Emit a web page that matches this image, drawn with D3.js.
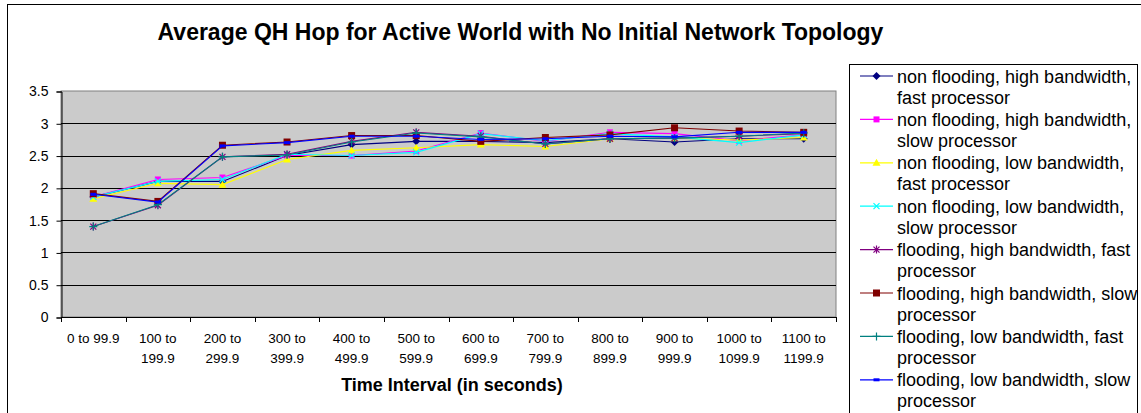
<!DOCTYPE html>
<html>
<head>
<meta charset="utf-8">
<script src="https://cdn.jsdelivr.net/npm/d3@7"></script>
<style>
  html, body { margin: 0; padding: 0; background: #fff; }
  svg { display: block; font-family: Arial, "Liberation Sans", sans-serif; }
</style>
</head>
<body>
<svg id="chart" width="1141" height="413"></svg>
<script>
// Time intervals (x categories)
const categories = ["0 to 99.9", "100 to 199.9", "200 to 299.9", "300 to 399.9",
  "400 to 499.9", "500 to 599.9", "600 to 699.9", "700 to 799.9",
  "800 to 899.9", "900 to 999.9", "1000 to 1099.9", "1100 to 1199.9"];

// Average QH hop per interval, one array per configuration
const nfHighFast = [1.86, 2.10, 2.10, 2.50, 2.67, 2.72, 2.72, 2.70, 2.76, 2.71, 2.76, 2.76];
const nfHighSlow = [1.86, 2.13, 2.16, 2.50, 2.50, 2.57, 2.85, 2.72, 2.86, 2.84, 2.73, 2.82];
const nfLowFast  = [1.83, 2.07, 2.05, 2.44, 2.58, 2.62, 2.67, 2.64, 2.76, 2.77, 2.74, 2.78];
const nfLowSlow  = [1.86, 2.10, 2.13, 2.52, 2.50, 2.55, 2.84, 2.73, 2.84, 2.79, 2.70, 2.82];
const fHighFast  = [1.40, 1.73, 2.48, 2.52, 2.72, 2.86, 2.80, 2.68, 2.76, 2.77, 2.80, 2.84];
const fHighSlow  = [1.91, 1.79, 2.66, 2.71, 2.81, 2.81, 2.72, 2.78, 2.82, 2.93, 2.88, 2.86];
const fLowFast   = [1.40, 1.74, 2.48, 2.51, 2.71, 2.85, 2.79, 2.68, 2.76, 2.77, 2.80, 2.85];
const fLowSlow   = [1.90, 1.78, 2.65, 2.70, 2.80, 2.80, 2.75, 2.76, 2.80, 2.79, 2.86, 2.86];

const seriesNames = [
  ["non flooding, high bandwidth,", "fast processor"],
  ["non flooding, high bandwidth,", "slow processor"],
  ["non flooding, low bandwidth,", "fast processor"],
  ["non flooding, low bandwidth,", "slow processor"],
  ["flooding, high bandwidth, fast", "processor"],
  ["flooding, high bandwidth, slow", "processor"],
  ["flooding, low bandwidth, fast", "processor"],
  ["flooding, low bandwidth, slow", "processor"]
];
const seriesValues = [nfHighFast, nfHighSlow, nfLowFast, nfLowSlow, fHighFast, fHighSlow, fLowFast, fLowSlow];

const yTicks = [0, 0.5, 1, 1.5, 2, 2.5, 3, 3.5];
const titleText = "Average QH Hop for Active World with No Initial Network Topology";
const xTitleText = "Time Interval (in seconds)";

// Styling per series: colour and marker shape
const styles = [
  { color: "#000080", marker: "diamond" },
  { color: "#ff00ff", marker: "square" },
  { color: "#ffff00", marker: "triangle" },
  { color: "#00ffff", marker: "x" },
  { color: "#800080", marker: "asterisk" },
  { color: "#800000", marker: "bigsquare" },
  { color: "#008080", marker: "plus" },
  { color: "#0000ff", marker: "dash" }
];
const markerPaths = {
  diamond:   { d: "M0,-4L4,0L0,4L-4,0Z", fill: true },
  square:    { d: "M-3,-3h6v6h-6Z", fill: true },
  triangle:  { d: "M0,-4L4,3L-4,3Z", fill: true },
  x:         { d: "M-3,-3L3,3M3,-3L-3,3", fill: false },
  asterisk:  { d: "M-3,-3L3,3M3,-3L-3,3M0,-4V4", fill: false },
  bigsquare: { d: "M-3.5,-3.5h7v7h-7Z", fill: true },
  plus:      { d: "M-4,0H4M0,-4V4", fill: false },
  dash:      { d: "M-3,-1.5h6v3h-6Z", fill: true }
};

const svg = d3.select("#chart");
const W = 1141, H = 413;

// Chart area border
svg.append("rect").attr("x", 7.5).attr("y", 4.5).attr("width", W).attr("height", H)
  .attr("fill", "#fff").attr("stroke", "#000").attr("stroke-width", 1);

const plot = { left: 61, right: 836, top: 91, bottom: 317 };

const x = d3.scaleBand().domain(categories).range([plot.left, plot.right]).padding(0);
const y = d3.scaleLinear().domain([0, 3.5]).range([plot.bottom, plot.top]);

// Plot area background
svg.append("rect")
  .attr("x", plot.left).attr("y", plot.top)
  .attr("width", plot.right - plot.left).attr("height", plot.bottom - plot.top)
  .attr("fill", "#cbcbcb").attr("stroke", "#808080").attr("stroke-width", 1);

// Horizontal gridlines
svg.append("g").selectAll("line").data(yTicks.filter(t => t > 0 && t < 3.5)).join("line")
  .attr("x1", plot.left).attr("x2", plot.right)
  .attr("y1", d => Math.round(y(d)) + 0.5).attr("y2", d => Math.round(y(d)) + 0.5)
  .attr("stroke", "#000").attr("stroke-width", 1);

// Y axis
const yAxis = d3.axisLeft(y).tickValues(yTicks).tickSize(5).tickPadding(8)
  .tickFormat(d3.format("~g"));
const gy = svg.append("g").attr("transform", `translate(${plot.left + 0.5},0.5)`).call(yAxis);
gy.select(".domain").attr("stroke", "#000");
gy.selectAll(".tick line").attr("stroke", "#000");
gy.selectAll(".tick text").attr("font-size", 14).attr("fill", "#000")
  .attr("font-family", "Arial, 'Liberation Sans', sans-serif");

// X axis: baseline, tick marks at band boundaries, wrapped labels
const gx = svg.append("g");
gx.append("line").attr("x1", plot.left).attr("x2", plot.right)
  .attr("y1", plot.bottom + 0.5).attr("y2", plot.bottom + 0.5).attr("stroke", "#000");
const bounds = categories.map(c => x(c)).concat([plot.right]);
gx.selectAll("line.tk").data(bounds).join("line").attr("class", "tk")
  .attr("x1", d => Math.round(d) + 0.5).attr("x2", d => Math.round(d) + 0.5)
  .attr("y1", plot.bottom).attr("y2", plot.bottom + 5).attr("stroke", "#000");

const labelG = gx.selectAll("text.xl").data(categories).join("text").attr("class", "xl")
  .attr("x", d => x(d) + x.bandwidth() / 2)
  .attr("y", plot.bottom + 26)
  .attr("text-anchor", "middle").attr("font-size", 13.5).attr("fill", "#000");
labelG.each(function (d) {
  const t = d3.select(this);
  const words = d.split(" ");
  let lines = [], cur = [];
  const probe = t.append("tspan");
  words.forEach(w => {
    const trial = cur.concat([w]).join(" ");
    probe.text(trial);
    if (probe.node().getComputedTextLength() > x.bandwidth() - 4 && cur.length) {
      lines.push(cur.join(" "));
      cur = [w];
    } else cur.push(w);
  });
  lines.push(cur.join(" "));
  probe.remove();
  lines.forEach((ln, i) => {
    t.append("tspan").attr("x", x(d) + x.bandwidth() / 2).attr("dy", i === 0 ? 0 : 19.5).text(ln);
  });
});

// Series lines and markers
const line = d3.line().x((d, i) => x(categories[i]) + x.bandwidth() / 2).y(d => y(d));
seriesValues.forEach((vals, si) => {
  const st = styles[si];
  const g = svg.append("g");
  g.append("path").datum(vals).attr("d", line)
    .attr("fill", "none").attr("stroke", st.color).attr("stroke-width", 1.1);
  const mp = markerPaths[st.marker];
  g.selectAll("path.m").data(vals).join("path").attr("class", "m")
    .attr("transform", (d, i) => `translate(${x(categories[i]) + x.bandwidth() / 2},${y(d)})`)
    .attr("d", mp.d)
    .attr("fill", mp.fill ? st.color : "none")
    .attr("stroke", mp.fill ? "none" : st.color)
    .attr("stroke-width", 1.2);
});

// Title
svg.append("text").attr("x", 520.5).attr("y", 40).attr("text-anchor", "middle")
  .attr("font-size", 23).attr("font-weight", "bold").attr("fill", "#000").text(titleText);

// X axis title
svg.append("text").attr("x", 452).attr("y", 391).attr("text-anchor", "middle")
  .attr("font-size", 18).attr("font-weight", "bold").attr("fill", "#000").text(xTitleText);

// Legend
const leg = svg.append("g");
leg.append("rect").attr("x", 849.5).attr("y", 64.5).attr("width", 288).attr("height", 380)
  .attr("fill", "#fff").attr("stroke", "#000");
seriesNames.forEach((nm, i) => {
  const cy = 76 + 43.4 * i;
  const st = styles[i];
  const mp = markerPaths[st.marker];
  leg.append("line").attr("x1", 860).attr("x2", 893).attr("y1", cy).attr("y2", cy)
    .attr("stroke", st.color).attr("stroke-width", 1.2);
  leg.append("path").attr("transform", `translate(876.5,${cy})`).attr("d", mp.d)
    .attr("fill", mp.fill ? st.color : "none")
    .attr("stroke", mp.fill ? "none" : st.color).attr("stroke-width", 1.2);
  const t = leg.append("text").attr("x", 897).attr("y", cy + 6.5)
    .attr("font-size", 18).attr("fill", "#000");
  nm.forEach((ln, j) => t.append("tspan").attr("x", 897).attr("dy", j === 0 ? 0 : 21).text(ln));
});
</script>
</body>
</html>
